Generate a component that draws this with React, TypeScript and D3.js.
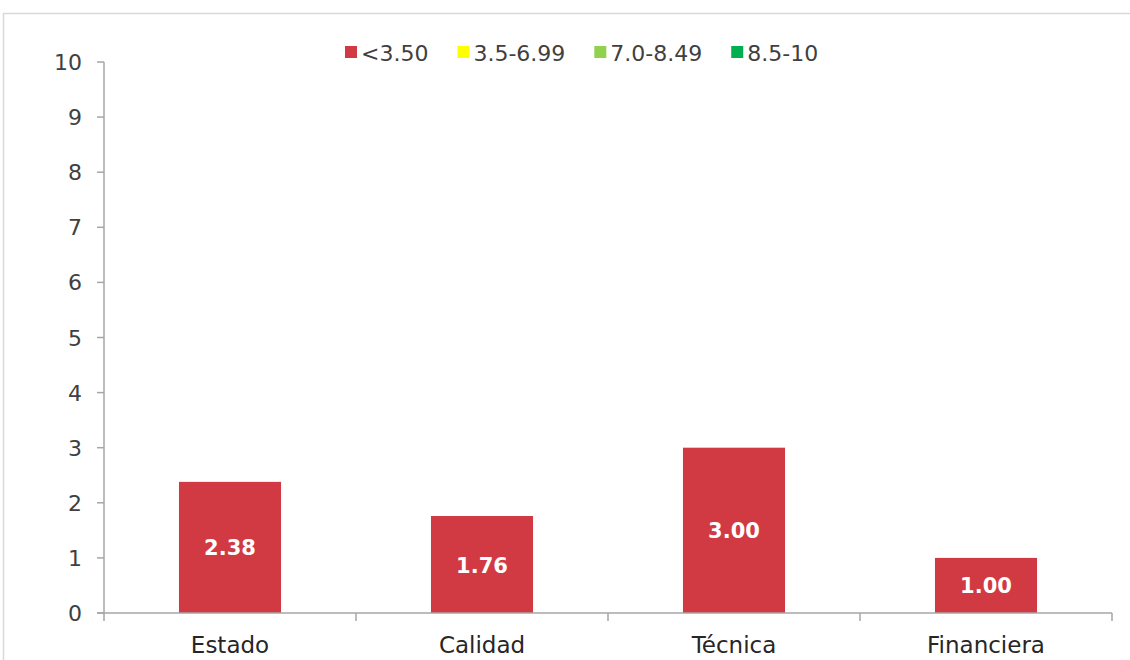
import * as d3 from "d3";

const categories = ["Estado", "Calidad", "Técnica", "Financiera"];
const scores = [2.38, 1.76, 3.0, 1.0];
const legendLabels = ["<3.50", "3.5-6.99", "7.0-8.49", "8.5-10"];
const legendColors = ["#d13a42", "#ffff00", "#92d050", "#00b050"];
const yTicks = [0, 1, 2, 3, 4, 5, 6, 7, 8, 9, 10];

const font = "'DejaVu Sans', sans-serif";
const axisColor = "#a6a6a6";

let measureCtx: CanvasRenderingContext2D | null = null;
function textWidth(text: string, size: number) {
  if (!measureCtx) measureCtx = document.createElement("canvas").getContext("2d");
  if (!measureCtx) return text.length * size * 0.6;
  measureCtx.font = `${size}px 'DejaVu Sans'`;
  return measureCtx.measureText(text).width;
}

export default function App() {
  const width = 1130;
  const height = 660;
  const margin = { top: 62, right: 18, bottom: 47, left: 104 };
  const x = d3
    .scaleBand<string>()
    .domain(categories)
    .range([margin.left, width - margin.right])
    .paddingInner(0.595)
    .paddingOuter(0.2975);
  const y = d3.scaleLinear([0, 10], [height - margin.bottom, margin.top]);
  const step = x.step();
  const boundaries = d3.range(categories.length + 1).map((i) => margin.left + i * step);
  const baseY = y(0);

  const legendSize = 22;
  const swatch = 12;
  const gap = 29;
  const itemWidths = legendLabels.map((label) => swatch + 4 + textWidth(label, legendSize));
  let legendX = 345;
  const legendItems = legendLabels.map((label, i) => {
    const item = { label, color: legendColors[i], x: legendX };
    legendX += itemWidths[i] + gap;
    return item;
  });

  return (
    <svg
      width={width}
      height={height}
      viewBox={`0 0 ${width} ${height}`}
      style={{ position: "absolute", left: 0, top: 0, background: "#fff" }}
      fontFamily={font}
    >
      <rect x={3.5} y={13.5} width={width} height={height} fill="#fff" stroke="#d9d9d9" strokeWidth={1.5} />

      {/* legend */}
      {legendItems.map((item) => (
        <g key={item.label}>
          <rect x={item.x} y={46} width={swatch} height={swatch} fill={item.color} />
          <text x={item.x + swatch + 4} y={61} fontSize={legendSize} fill="#404040">
            {item.label}
          </text>
        </g>
      ))}

      {/* y axis */}
      <line x1={margin.left} x2={margin.left} y1={y(10)} y2={baseY} stroke={axisColor} strokeWidth={1.5} />
      {yTicks.map((tick) => (
        <g key={tick}>
          <line x1={margin.left - 7} x2={margin.left} y1={y(tick)} y2={y(tick)} stroke={axisColor} strokeWidth={1.5} />
          <text x={82} y={y(tick) + 8} textAnchor="end" fontSize={22} fill="#404040">
            {tick}
          </text>
        </g>
      ))}

      {/* bars */}
      {categories.map((cat, i) => {
        const x0 = x(cat) ?? 0;
        const top = y(scores[i]);
        return (
          <g key={cat}>
            <rect x={x0} y={top} width={x.bandwidth()} height={baseY - top} fill="#d13a42" />
            <text
              x={x0 + x.bandwidth() / 2}
              y={(top + baseY) / 2 + 8}
              textAnchor="middle"
              fontSize={21}
              fontWeight="bold"
              fill="#fff"
            >
              {scores[i].toFixed(2)}
            </text>
          </g>
        );
      })}

      {/* x axis */}
      <line x1={margin.left - 7} x2={width - margin.right} y1={baseY} y2={baseY} stroke={axisColor} strokeWidth={1.5} />
      {boundaries.map((bx) => (
        <line key={bx} x1={bx} x2={bx} y1={baseY} y2={baseY + 8} stroke={axisColor} strokeWidth={1.5} />
      ))}
      {categories.map((cat) => (
        <text
          key={cat}
          x={(x(cat) ?? 0) + x.bandwidth() / 2}
          y={653}
          textAnchor="middle"
          fontSize={23}
          fill="#262626"
        >
          {cat}
        </text>
      ))}
    </svg>
  );
}
